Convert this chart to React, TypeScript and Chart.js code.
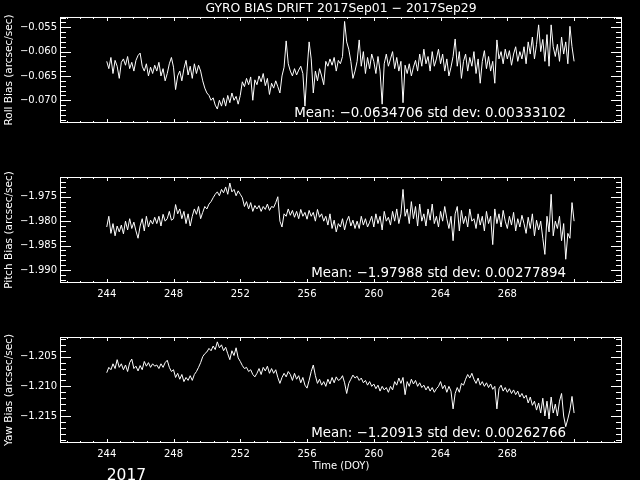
import { useEffect, useRef } from "react";
import { Chart, registerables } from "chart.js";

Chart.register(...registerables);

const FONT = "'DejaVu Sans', sans-serif";

// time sampling of the series (day of year)
const START_DAY = 244.0;
const STEP_DAY = 0.125;

const X_MIN = 241.2;
const X_MAX = 274.87;

const xTickDays = [244, 248, 252, 256, 260, 264, 268];

const rollTicks = [-0.07, -0.065, -0.06, -0.055];
const pitchTicks = [-1.99, -1.985, -1.98, -1.975];
const yawTicks = [-1.215, -1.21, -1.205];

const titleText = "GYRO BIAS DRIFT 2017Sep01 \u2212 2017Sep29";
const rollLabel = "Roll Bias (arcsec/sec)";
const pitchLabel = "Pitch Bias (arcsec/sec)";
const yawLabel = "Yaw Bias (arcsec/sec)";
const rollMean = "Mean: \u22120.0634706 std dev: 0.00333102";
const pitchMean = "Mean: \u22121.97988 std dev: 0.00277894";
const yawMean = "Mean: \u22121.20913 std dev: 0.00262766";
const xTitle = "Time (DOY)";
const yearLabel = "2017";

const rollBias = [
  -0.0620, -0.0635, -0.0612, -0.0645, -0.0618, -0.0630, -0.0655, -0.0622,
  -0.0615, -0.0628, -0.0610, -0.0635, -0.0622, -0.0640, -0.0618, -0.0608,
  -0.0603, -0.0630, -0.0640, -0.0625, -0.0650, -0.0632, -0.0645, -0.0628,
  -0.0640, -0.0622, -0.0650, -0.0635, -0.0660, -0.0645, -0.0625, -0.0612,
  -0.0632, -0.0678, -0.0650, -0.0640, -0.0660, -0.0635, -0.0618, -0.0648,
  -0.0630, -0.0655, -0.0625, -0.0645, -0.0628, -0.0640, -0.0660, -0.0675,
  -0.0685, -0.0690, -0.0700, -0.0695, -0.0710, -0.0718, -0.0700, -0.0712,
  -0.0695, -0.0712, -0.0690, -0.0705, -0.0685, -0.0700, -0.0692, -0.0708,
  -0.0690, -0.0662, -0.0672, -0.0655, -0.0668, -0.0652, -0.0700, -0.0658,
  -0.0668, -0.0650, -0.0662, -0.0645, -0.0670, -0.0655, -0.0688, -0.0665,
  -0.0675, -0.0660, -0.0672, -0.0685, -0.0650, -0.0632, -0.0578, -0.0625,
  -0.0640, -0.0650, -0.0635, -0.0648, -0.0638, -0.0630, -0.0645, -0.0712,
  -0.0640, -0.0580, -0.0615, -0.0685, -0.0640, -0.0660, -0.0635, -0.0650,
  -0.0668, -0.0620, -0.0630, -0.0615, -0.0628, -0.0612, -0.0640, -0.0618,
  -0.0625, -0.0610, -0.0538, -0.0580, -0.0595, -0.0620, -0.0655, -0.0640,
  -0.0620, -0.0576, -0.0630, -0.0600, -0.0645, -0.0612, -0.0635, -0.0605,
  -0.0620, -0.0645, -0.0610, -0.0640, -0.0708, -0.0625, -0.0605, -0.0630,
  -0.0615, -0.0600, -0.0635, -0.0612, -0.0640, -0.0620, -0.0705, -0.0628,
  -0.0645, -0.0625, -0.0650, -0.0632, -0.0618, -0.0640, -0.0605, -0.0630,
  -0.0595, -0.0625, -0.0610, -0.0640, -0.0600, -0.0630, -0.0615, -0.0595,
  -0.0625, -0.0605, -0.0640, -0.0615, -0.0650, -0.0632, -0.0610, -0.0574,
  -0.0630, -0.0600, -0.0655, -0.0620, -0.0605, -0.0640, -0.0612, -0.0630,
  -0.0600, -0.0645, -0.0615, -0.0665, -0.0620, -0.0598, -0.0635, -0.0610,
  -0.0640, -0.0620, -0.0665, -0.0576, -0.0615, -0.0600, -0.0625, -0.0595,
  -0.0615, -0.0598, -0.0628, -0.0605, -0.0590, -0.0620, -0.0600, -0.0615,
  -0.0590, -0.0625, -0.0580, -0.0605, -0.0570, -0.0615, -0.0585, -0.0545,
  -0.0600, -0.0575, -0.0620, -0.0565, -0.0630, -0.0545, -0.0590, -0.0610,
  -0.0585, -0.0620, -0.0570, -0.0605, -0.0580, -0.0625, -0.0548, -0.0590,
  -0.0620,
];

const pitchBias = [
  -1.9812, -1.9790, -1.9825, -1.9805, -1.9830, -1.9810, -1.9822, -1.9808,
  -1.9826, -1.9800, -1.9818, -1.9795, -1.9815, -1.9802, -1.9820, -1.9835,
  -1.9810, -1.9795, -1.9820, -1.9790, -1.9812, -1.9798, -1.9806, -1.9792,
  -1.9805, -1.9790, -1.9810, -1.9786, -1.9800, -1.9795, -1.9780, -1.9798,
  -1.9795, -1.9766, -1.9785, -1.9775, -1.9795, -1.9780, -1.9805, -1.9785,
  -1.9810, -1.9790, -1.9775, -1.9786, -1.9770, -1.9795, -1.9782, -1.9770,
  -1.9775, -1.9765, -1.9760, -1.9752, -1.9745, -1.9740, -1.9748, -1.9735,
  -1.9742, -1.9730, -1.9745, -1.9722, -1.9740, -1.9735, -1.9748, -1.9738,
  -1.9745, -1.9752, -1.9770, -1.9760, -1.9775, -1.9762, -1.9780, -1.9768,
  -1.9775, -1.9768, -1.9780, -1.9770, -1.9776, -1.9765, -1.9778, -1.9770,
  -1.9772, -1.9762, -1.9750, -1.9800, -1.9812, -1.9785, -1.9790, -1.9775,
  -1.9788, -1.9778, -1.9792, -1.9780, -1.9795, -1.9776, -1.9790, -1.9782,
  -1.9796, -1.9778, -1.9790, -1.9782, -1.9800, -1.9776, -1.9792, -1.9785,
  -1.9800, -1.9790, -1.9808, -1.9785, -1.9815, -1.9798, -1.9822, -1.9805,
  -1.9812, -1.9795, -1.9818, -1.9800, -1.9790, -1.9810, -1.9798, -1.9815,
  -1.9800, -1.9815, -1.9790, -1.9808, -1.9795, -1.9812, -1.9802, -1.9790,
  -1.9812, -1.9785, -1.9805, -1.9790, -1.9818, -1.9780, -1.9800, -1.9792,
  -1.9808, -1.9780, -1.9800, -1.9775, -1.9805, -1.9785, -1.9735, -1.9790,
  -1.9775, -1.9805, -1.9760, -1.9795, -1.9770, -1.9810, -1.9765, -1.9800,
  -1.9785, -1.9810, -1.9775, -1.9798, -1.9765, -1.9805, -1.9790, -1.9812,
  -1.9780, -1.9800, -1.9770, -1.9795, -1.9815, -1.9790, -1.9840, -1.9785,
  -1.9770, -1.9820, -1.9778, -1.9805, -1.9790, -1.9812, -1.9775, -1.9800,
  -1.9795, -1.9815, -1.9785, -1.9808, -1.9790, -1.9820, -1.9780, -1.9805,
  -1.9790, -1.9848, -1.9775, -1.9805, -1.9785, -1.9812, -1.9778, -1.9800,
  -1.9815, -1.9790, -1.9808, -1.9782, -1.9820, -1.9795, -1.9812, -1.9788,
  -1.9805, -1.9825, -1.9792, -1.9815, -1.9785, -1.9830, -1.9798, -1.9818,
  -1.9800, -1.9835, -1.9868, -1.9790, -1.9822, -1.9745, -1.9830, -1.9800,
  -1.9815, -1.9790, -1.9840, -1.9805, -1.9878, -1.9825, -1.9835, -1.9762,
  -1.9800,
];

const yawBias = [
  -1.2077, -1.2068, -1.2072, -1.2062, -1.2070, -1.2055, -1.2068, -1.2062,
  -1.2072, -1.2064, -1.2075, -1.2060, -1.2054, -1.2070, -1.2066, -1.2074,
  -1.2065, -1.2072, -1.2058, -1.2066, -1.2060, -1.2068, -1.2062, -1.2066,
  -1.2064, -1.2070, -1.2062, -1.2068, -1.2060, -1.2056, -1.2068, -1.2075,
  -1.2072, -1.2085, -1.2078, -1.2088, -1.2080, -1.2092, -1.2085, -1.2090,
  -1.2082, -1.2090, -1.2080, -1.2075, -1.2068, -1.2060, -1.2050, -1.2045,
  -1.2042, -1.2036, -1.2040, -1.2032, -1.2038, -1.2025, -1.2035, -1.2030,
  -1.2040, -1.2034, -1.2045, -1.2055, -1.2040, -1.2048, -1.2035, -1.2052,
  -1.2058, -1.2065, -1.2070, -1.2068, -1.2075, -1.2072, -1.2080, -1.2084,
  -1.2078, -1.2070, -1.2080, -1.2068, -1.2074, -1.2066, -1.2078, -1.2070,
  -1.2078, -1.2072, -1.2085, -1.2095, -1.2085, -1.2078, -1.2084, -1.2075,
  -1.2080, -1.2090, -1.2078, -1.2088, -1.2082, -1.2094, -1.2085, -1.2098,
  -1.2103, -1.2090, -1.2075, -1.2064, -1.2082, -1.2095, -1.2088, -1.2098,
  -1.2092, -1.2100, -1.2088, -1.2096, -1.2085, -1.2094, -1.2084, -1.2090,
  -1.2088, -1.2082, -1.2094, -1.2112, -1.2095, -1.2088, -1.2081, -1.2086,
  -1.2083, -1.2090, -1.2086, -1.2094, -1.2090, -1.2098, -1.2092, -1.2100,
  -1.2096, -1.2104, -1.2098, -1.2108, -1.2100, -1.2106, -1.2102, -1.2110,
  -1.2100, -1.2106, -1.2092, -1.2098, -1.2086, -1.2095, -1.2085, -1.2114,
  -1.2092, -1.2100, -1.2088, -1.2096, -1.2090, -1.2100, -1.2094, -1.2102,
  -1.2098, -1.2106, -1.2100, -1.2108, -1.2102, -1.2110, -1.2104, -1.2100,
  -1.2092, -1.2104, -1.2098, -1.2110, -1.2100, -1.2108, -1.2138, -1.2112,
  -1.2102, -1.2110, -1.2095, -1.2098, -1.2088, -1.2080, -1.2086, -1.2078,
  -1.2088, -1.2095, -1.2086, -1.2098, -1.2092, -1.2100, -1.2094, -1.2102,
  -1.2096, -1.2105, -1.2100, -1.2138, -1.2104, -1.2098, -1.2108, -1.2102,
  -1.2110, -1.2104, -1.2112, -1.2106, -1.2114, -1.2108, -1.2118, -1.2112,
  -1.2120, -1.2115, -1.2128, -1.2118, -1.2132, -1.2125, -1.2140, -1.2128,
  -1.2145, -1.2120, -1.2150, -1.2125, -1.2155, -1.2118, -1.2145, -1.2130,
  -1.2150, -1.2125, -1.2112, -1.2150, -1.2168, -1.2155, -1.2140, -1.2117,
  -1.2145,
];

type PanelCfg = {
  values: number[];
  yMin: number;
  yMax: number;
  yTicks: number[];
  yLabel: string;
  mean: string;
  title?: string;
  showXLabels: boolean;
  showXTitle: boolean;
  showYear: boolean;
};

const panels: PanelCfg[] = [
  { values: rollBias, yMin: -0.07467, yMax: -0.05288, yTicks: rollTicks, yLabel: rollLabel, mean: rollMean, title: titleText, showXLabels: false, showXTitle: false, showYear: false },
  { values: pitchBias, yMin: -1.99266, yMax: -1.97096, yTicks: pitchTicks, yLabel: pitchLabel, mean: pitchMean, showXLabels: true, showXTitle: false, showYear: false },
  { values: yawBias, yMin: -1.21955, yMax: -1.20168, yTicks: yawTicks, yLabel: yawLabel, mean: yawMean, showXLabels: true, showXTitle: true, showYear: true },
];

const fmtY = (v: number) => (v < 0 ? "\u2212" : "") + Math.abs(v).toFixed(3);

const framePlugin = {
  id: "frame",
  afterDraw(chart: any, _args: any, opts: any) {
    const { ctx, chartArea: a } = chart;
    const xs = chart.scales.x;
    const ys = chart.scales.y;
    ctx.save();
    ctx.strokeStyle = "#fff";
    ctx.lineWidth = 1;
    ctx.strokeRect(a.left + 0.5, a.top + 0.5, a.right - a.left - 1, a.bottom - a.top - 1);
    ctx.beginPath();
    // x ticks (major every 4 days, 5 minor intervals)
    for (let k = -20; k <= 60; k++) {
      const v = 244 + k * 0.8;
      if (v < xs.min || v > xs.max) continue;
      const major = k % 5 === 0;
      const px = Math.round(xs.getPixelForValue(v)) + 0.5;
      const len = major ? 4 : 2;
      ctx.moveTo(px, a.bottom);
      ctx.lineTo(px, a.bottom - len);
      ctx.moveTo(px, a.top);
      ctx.lineTo(px, a.top + len);
    }
    // y ticks (major every 0.005, minor every 0.001)
    const k0 = Math.ceil(ys.min / 0.001 - 1e-6);
    const k1 = Math.floor(ys.max / 0.001 + 1e-6);
    for (let k = k0; k <= k1; k++) {
      const v = k * 0.001;
      const major = Math.abs(k % 5) === 0;
      const py = Math.round(ys.getPixelForValue(v)) + 0.5;
      const len = major ? 11 : 6;
      ctx.moveTo(a.left, py);
      ctx.lineTo(a.left + len, py);
      ctx.moveTo(a.right, py);
      ctx.lineTo(a.right - len, py);
    }
    ctx.stroke();

    ctx.fillStyle = "#fff";
    ctx.font = "13.4px " + FONT;
    ctx.textAlign = "right";
    ctx.textBaseline = "alphabetic";
    ctx.fillText(opts.mean, 566, a.bottom - 6.5);

    if (opts.showYear) {
      ctx.font = "15.5px " + FONT;
      ctx.textAlign = "left";
      ctx.fillText(yearLabel, xs.getPixelForValue(244), chart.height);
    }
    ctx.restore();
  },
};

function Panel({ cfg }: { cfg: PanelCfg }) {
  const ref = useRef<HTMLCanvasElement>(null);
  useEffect(() => {
    const data = cfg.values.map((v, i) => ({ x: START_DAY + i * STEP_DAY, y: v }));
    const chart = new Chart(ref.current as HTMLCanvasElement, {
      type: "line",
      data: {
        datasets: [
          {
            data,
            borderColor: "#ffffff",
            borderWidth: 1,
            pointRadius: 0,
            tension: 0,
            fill: false,
          },
        ],
      },
      options: {
        animation: false,
        responsive: false,
        devicePixelRatio: 1,
        events: [],
        layout: { padding: { left: 0, right: 18, top: cfg.title ? 0 : 17, bottom: 8 } },
        plugins: {
          legend: { display: false },
          tooltip: { enabled: false },
          title: {
            display: !!cfg.title,
            text: cfg.title || "",
            color: "#ffffff",
            fullSize: false,
            font: { family: FONT, size: 12.4, weight: "normal" },
            padding: { top: 1.7, bottom: 0.4 },
          },
          frame: { mean: cfg.mean, showYear: cfg.showYear },
        } as any,
        scales: {
          x: {
            type: "linear",
            min: X_MIN,
            max: X_MAX,
            grid: { display: false, drawTicks: false },
            border: { display: false },
            ticks: {
              display: cfg.showXLabels,
              color: "#ffffff",
              font: { family: FONT, size: 10 },
              padding: 5,
              autoSkip: false,
              maxRotation: 0,
              minRotation: 0,
              callback: (v: any) => String(v),
            },
            afterBuildTicks: (s: any) => {
              s.ticks = xTickDays.map((v) => ({ value: v }));
            },
            afterFit: (s: any) => {
              s.height = 29;
            },
            title: {
              display: cfg.showXTitle,
              text: xTitle,
              color: "#ffffff",
              font: { family: FONT, size: 10 },
              padding: { top: 0, bottom: 0 },
            },
          },
          y: {
            type: "linear",
            min: cfg.yMin,
            max: cfg.yMax,
            grid: { display: false, drawTicks: false },
            border: { display: false },
            ticks: {
              color: "#ffffff",
              font: { family: FONT, size: 10 },
              padding: 3,
              autoSkip: false,
              callback: (v: any) => fmtY(Number(v)),
            },
            afterBuildTicks: (s: any) => {
              s.ticks = cfg.yTicks.map((v) => ({ value: v }));
            },
            afterFit: (s: any) => {
              s.width = 60;
            },
            title: {
              display: true,
              text: cfg.yLabel,
              color: "#ffffff",
              font: { family: FONT, size: 10.5 },
              padding: { top: 3, bottom: 0 },
            },
          },
        },
      } as any,
      plugins: [framePlugin as any],
    });
    return () => chart.destroy();
  }, [cfg]);
  return <canvas ref={ref} width={640} height={160} style={{ display: "block", width: 640, height: 160 }} />;
}

export default function App() {
  return (
    <div
      style={{
        position: "absolute",
        left: 0,
        top: 0,
        width: 640,
        height: 480,
        background: "#000",
        overflow: "hidden",
      }}
    >
      {panels.map((p, i) => (
        <Panel key={i} cfg={p} />
      ))}
    </div>
  );
}
